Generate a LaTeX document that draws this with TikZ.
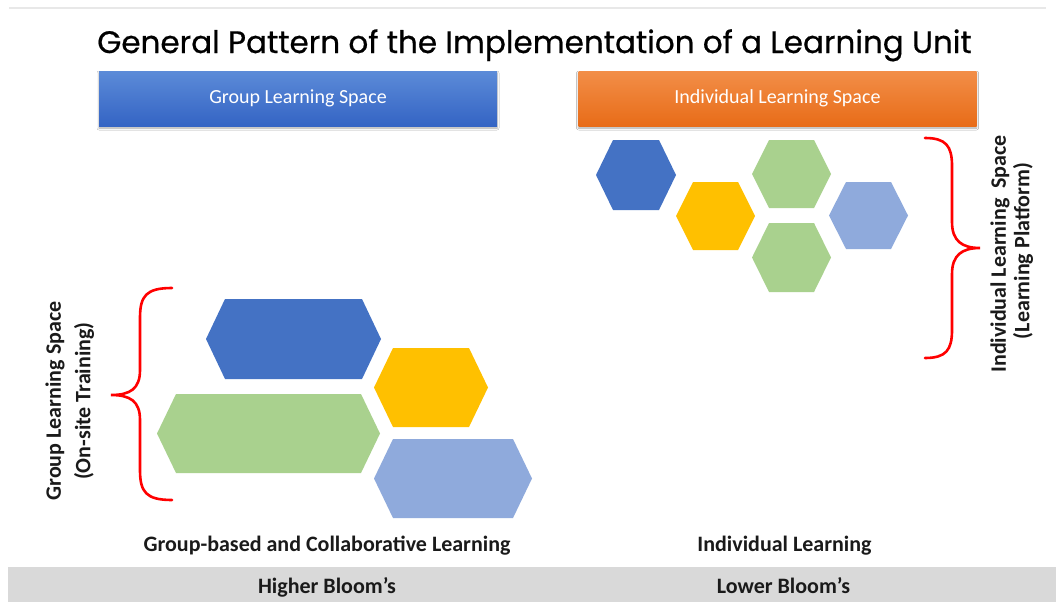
\documentclass[tikz,border=0pt]{standalone}
\usepackage{fontspec}
\setmainfont{Carlito}
\newfontfamily\titlefont[FakeBold=0.6]{Poppins}
\usetikzlibrary{shadows.blur}

% Office palette
\definecolor{hexblue}{RGB}{68,114,196}
\definecolor{hexyellow}{RGB}{255,192,0}
\definecolor{hexgreen}{RGB}{169,209,142}
\definecolor{hexlight}{RGB}{143,170,220}
\definecolor{bandgrey}{RGB}{217,217,217}
\definecolor{ruleline}{RGB}{232,232,232}
\definecolor{bluetop}{RGB}{92,139,216}
\definecolor{bluebot}{RGB}{52,100,196}
\definecolor{orangetop}{RGB}{242,142,72}
\definecolor{orangebot}{RGB}{232,108,24}
\definecolor{bracered}{RGB}{255,0,0}
\definecolor{labelink}{RGB}{26,26,26}

% hexagon: fill colour, left x, right x, top y, bottom y, point inset
\newcommand\hexcell[6]{%
  \fill[#1] ({#2},{(#4+#5)/2}) -- ({#2+#6},#4) -- ({#3-#6},#4) --
    ({#3},{(#4+#5)/2}) -- ({#3-#6},#5) -- ({#2+#6},#5) -- cycle;}

\tikzset{
  headbar/.style={minimum width=398pt, minimum height=55pt, inner sep=0pt,
    text=white, font=\fontsize{20}{22}\selectfont,
    blur shadow={shadow xshift=0pt, shadow yshift=-2pt, shadow blur radius=2pt, shadow opacity=35}},
  boldlabel/.style={font=\bfseries\fontsize{22}{24}\selectfont, text=labelink, inner sep=0pt},
  sidelabel/.style={font=\bfseries\fontsize{22}{24}\selectfont, text=labelink, inner sep=0pt, rotate=90},
  brace/.style={draw=bracered, line width=2.6pt, line cap=round}
}

\begin{document}
\begin{tikzpicture}[x=1pt, y=-1pt]
\useasboundingbox (0,0) rectangle (1056,602);
\fill[white] (0,0) rectangle (1056,602);

% thin rule along the top
\draw[ruleline, line width=2pt] (9,8) -- (1046,8);

% title
\node[anchor=base, inner sep=0pt, font=\titlefont\fontsize{31}{34}\selectfont] (title)
  at (534.5,53) {General Pattern of the Implementation of a Learning Unit};

% heading bars
\node[headbar, top color=bluetop, bottom color=bluebot] (groupbar) at (298,98.5) {Group Learning Space};
\node[headbar, top color=orangetop, bottom color=orangebot] (indivbar) at (777.5,98.5) {Individual Learning Space};

% group learning cells
\hexcell{hexblue}{206}{381}{299}{379}{19}
\hexcell{hexgreen}{157}{380}{394}{473}{19}
\hexcell{hexyellow}{374}{488}{348}{427}{19}
\hexcell{hexlight}{374}{532}{439}{518}{19}

% individual learning cells
\hexcell{hexblue}{596}{676}{140}{210}{17}
\hexcell{hexyellow}{676}{755}{182}{250}{17}
\hexcell{hexgreen}{752}{831}{140}{208}{17}
\hexcell{hexgreen}{752}{831}{223}{292}{17}
\hexcell{hexlight}{829}{908}{182}{249}{17}

% braces
\coordinate (lbtop) at (172,288);
\coordinate (lbtip) at (111,395);
\coordinate (lbbot) at (172,500);
\draw[brace] (lbtop) .. controls (146,288) and (140,296) .. (140,318)
  -- (140,370) .. controls (140,389) and (130,395) .. (lbtip)
  .. controls (130,395) and (140,401) .. (140,420)
  -- (140,470) .. controls (140,492) and (146,500) .. (lbbot);

\coordinate (rbtop) at (925,138);
\coordinate (rbtip) at (980,248);
\coordinate (rbbot) at (925,358);
\draw[brace] (rbtop) .. controls (946,138) and (952,146) .. (952,166)
  -- (952,222) .. controls (952,241) and (962,248) .. (rbtip)
  .. controls (962,248) and (952,255) .. (952,274)
  -- (952,330) .. controls (952,350) and (946,358) .. (rbbot);

% side captions
\node[sidelabel] (leftcap1) at (55,401) {Group Learning Space};
\node[sidelabel] (leftcap2) at (84,401) {(On-site Training)};
\node[sidelabel] (rightcap1) at (1000,254) {Individual Learning\ \ Space};
\node[sidelabel] (rightcap2) at (1023,251) {(Learning Platform)};

% bottom labels
\node[boldlabel, anchor=base] (grouplabel) at (327,551) {Group-based and Collaborative Learning};
\node[boldlabel, anchor=base] (indivlabel) at (784.5,551) {Individual Learning};

% Bloom band
\fill[bandgrey] (8,567) rectangle (1056,602);
\node[boldlabel, anchor=base] (higher) at (327,593) {Higher Bloom’s};
\node[boldlabel, anchor=base] (lower) at (783.5,593) {Lower Bloom’s};
\end{tikzpicture}
\end{document}
